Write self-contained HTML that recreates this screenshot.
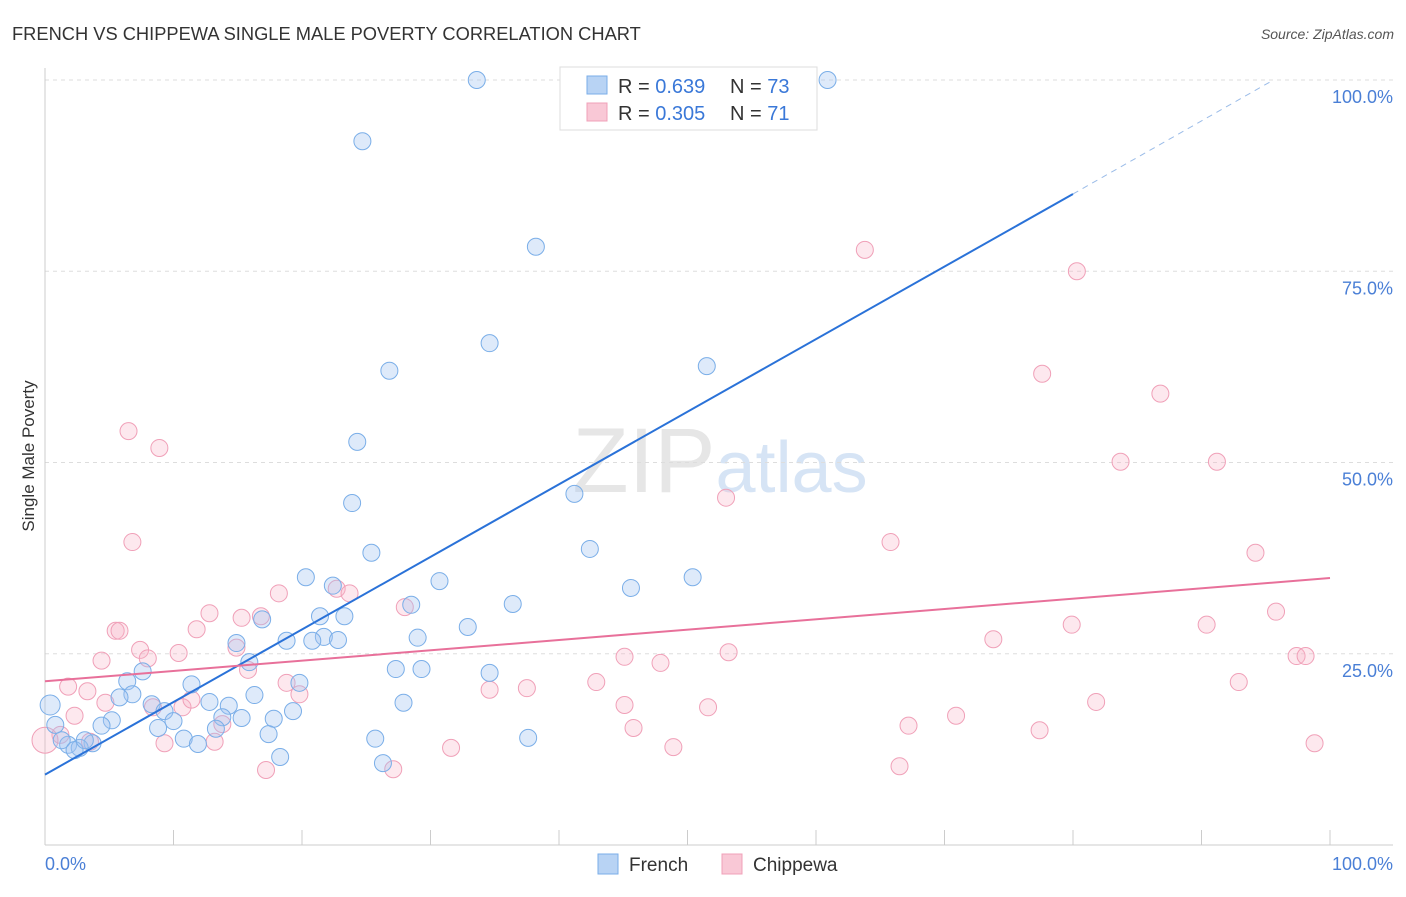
<!DOCTYPE html>
<html><head><meta charset="utf-8"><style>
body{margin:0;background:#fff;font-family:"Liberation Sans",sans-serif}
svg text{font-family:"Liberation Sans",sans-serif}
</style></head><body>
<svg id="chart" width="1406" height="892" xmlns="http://www.w3.org/2000/svg">
<text x="12" y="40" font-size="18.3" fill="#333">FRENCH VS CHIPPEWA SINGLE MALE POVERTY CORRELATION CHART</text>
<text x="1394" y="39" font-size="14" fill="#555" font-style="italic" text-anchor="end">Source: ZipAtlas.com</text>
<text x="720" y="492" font-size="92" text-anchor="middle" fill="#e6e6e6" font-family="Liberation Serif">ZIP<tspan fill="#d6e4f5" font-family="Liberation Sans" font-size="72">atlas</tspan></text>
<text transform="translate(34,456) rotate(-90)" font-size="17" fill="#333" text-anchor="middle">Single Male Poverty</text>
<g id="grid"></g><g id="pts"></g><g id="lines"></g>
<g>
<rect x="560" y="67" width="257" height="63" fill="#fff" stroke="#ddd"/>
<rect x="587" y="76" width="20" height="18" fill="#b8d3f4" stroke="#7aaee8"/>
<rect x="587" y="103" width="20" height="18" fill="#f9c8d6" stroke="#f0a0b8"/>
<text x="618" y="93" font-size="20" fill="#333">R = <tspan fill="#3a78d8">0.639</tspan><tspan x="730">N = </tspan><tspan fill="#3a78d8">73</tspan></text>
<text x="618" y="120" font-size="20" fill="#333">R = <tspan fill="#3a78d8">0.305</tspan><tspan x="730">N = </tspan><tspan fill="#3a78d8"> 71</tspan></text>
</g>
<g>
<rect x="598" y="854" width="20" height="20" fill="#b8d3f4" stroke="#7aaee8"/>
<text x="629" y="871" font-size="19" fill="#333">French</text>
<rect x="722" y="854" width="20" height="20" fill="#f9c8d6" stroke="#f0a0b8"/>
<text x="753" y="871" font-size="19" fill="#333">Chippewa</text>
</g>
</svg>
<script>
const yTicks=[25,50,75,100];
const yTickLabels=["25.0%","50.0%","75.0%","100.0%"];
const xTicks=[0,10,20,30,40,50,60,70,80,90,100];
const frenchX=[33.6,60.9,24.7,38.2,34.6,51.5,26.8,24.3,41.2,23.9,25.4,42.4,20.3,30.7,45.6,50.4,22.4,28.5,36.4,21.4,23.3,16.9,32.9,29.0,21.7,22.8,18.8,20.8,14.9,15.9,27.3,29.3,34.6,7.6,6.4,11.4,19.8,16.3,6.8,5.8,27.9,8.3,12.8,14.3,19.3,9.3,13.8,15.3,17.8,5.2,4.4,10.0,8.8,13.3,17.4,10.8,37.6,25.7,11.9,3.7,1.8,2.7,1.3,0.4,0.8,18.3,26.3,2.3,3.1];
const frenchY=[100,100,92.0,78.2,65.6,62.6,62.0,52.7,45.9,44.7,38.2,38.7,35.0,34.5,33.6,35.0,33.9,31.4,31.5,29.9,29.9,29.5,28.5,27.1,27.2,26.8,26.7,26.7,26.4,23.9,23.0,23.0,22.5,22.7,21.4,21.0,21.2,19.6,19.7,19.3,18.6,18.4,18.7,18.2,17.5,17.5,16.7,16.6,16.5,16.3,15.6,16.2,15.3,15.2,14.5,13.9,14.0,13.9,13.2,13.3,13.1,12.7,13.7,18.3,15.7,11.5,10.7,12.4,13.7];
const chipX=[63.8,80.3,77.6,86.8,83.7,91.2,6.5,8.9,53.0,6.8,65.8,94.2,18.2,22.7,23.7,12.8,15.3,16.8,28.0,95.8,5.5,5.8,11.8,79.9,90.4,73.8,7.4,8.0,10.4,14.9,4.4,53.2,45.1,47.9,97.4,98.1,1.8,3.3,15.8,18.8,19.8,42.9,37.5,34.6,92.9,4.7,8.4,10.7,11.4,45.1,51.6,81.8,2.3,13.8,67.2,70.9,45.8,77.4,1.2,3.5,9.3,13.2,31.6,48.9,98.8,66.5,17.2,27.1,0];
const chipY=[77.8,75.0,61.6,59.0,50.1,50.1,54.1,51.9,45.4,39.6,39.6,38.2,32.9,33.5,32.9,30.3,29.7,29.9,31.1,30.5,28.0,28.0,28.2,28.8,28.8,26.9,25.5,24.4,25.1,25.8,24.1,25.2,24.6,23.8,24.7,24.7,20.7,20.1,22.9,21.2,19.7,21.3,20.5,20.3,21.3,18.6,18.0,18.0,19.0,18.3,18.0,18.7,16.9,15.8,15.6,16.9,15.3,15.0,14.4,13.5,13.3,13.5,12.7,12.8,13.3,10.3,9.8,9.9,13.7];
const frenchTrend=[9.2,85.1,100.0];
const frenchTrendX=[0,80,95.6];
const chipTrend=[21.4,34.9];
const X0=45,X1=1330,Y0=845,Y100=80;
const sx=v=>X0+(X1-X0)*v/100, sy=v=>Y0-(Y0-Y100)*v/100;
const NS="http://www.w3.org/2000/svg";
function mk(p,t,a){const e=document.createElementNS(NS,t);for(const k in a)e.setAttribute(k,a[k]);p.appendChild(e);return e;}
const g=document.getElementById('grid');
yTicks.forEach((t,i)=>{
 const l=mk(g,'line',{x1:45,x2:1393,y1:sy(t),y2:sy(t),stroke:'#ddd','stroke-dasharray':'4,4'});
 
 
 const tx=mk(g,'text',{x:1393,y:sy(t)+23,'font-size':18,fill:'#4a7fd6','text-anchor':'end'});tx.textContent=yTickLabels[i];
 
 
});
const ax=mk(g,'line',{x1:45,x2:1393,y1:845,y2:845,stroke:'#ccc'});


const ay=mk(g,'line',{x1:45,x2:45,y1:68,y2:845,stroke:'#ccc'});


xTicks.forEach(t=>{const l=mk(g,'line',{x1:sx(t),x2:sx(t),y1:830,y2:845,stroke:'#ccc'});
 
 });
[["0.0%",45,'start'],["100.0%",1393,'end']].forEach(a=>{const t=mk(g,'text',{x:a[1],y:870,'font-size':18,fill:'#4a7fd6','text-anchor':a[2]});t.textContent=a[0];
 
 });
const P=document.getElementById('pts');
chipX.forEach((x,i)=>{const c=mk(P,'circle',{cx:sx(x),cy:sy(chipY[i]),r:x===0?13:8.5,fill:'rgba(248,180,200,0.3)',stroke:'#f0a0b8','stroke-width':1});
 
 });
frenchX.forEach((x,i)=>{const c=mk(P,'circle',{cx:sx(x),cy:sy(frenchY[i]),r:i===63?10:8.5,fill:'rgba(160,196,240,0.35)',stroke:'#7aaee8','stroke-width':1});
 
 });
const L=document.getElementById('lines');
const b1=mk(L,'line',{x1:sx(frenchTrendX[0]),y1:sy(frenchTrend[0]),x2:sx(frenchTrendX[1]),y2:sy(frenchTrend[1]),stroke:'#2a72d8','stroke-width':2});


const b2=mk(L,'line',{x1:sx(frenchTrendX[1]),y1:sy(frenchTrend[1]),x2:sx(frenchTrendX[2]),y2:sy(frenchTrend[2]),stroke:'#9bbce8','stroke-width':1,'stroke-dasharray':'6,5'});


const p1=mk(L,'line',{x1:sx(0),y1:sy(chipTrend[0]),x2:sx(100),y2:sy(chipTrend[1]),stroke:'#e8709a','stroke-width':2});


</script>
</body></html>
